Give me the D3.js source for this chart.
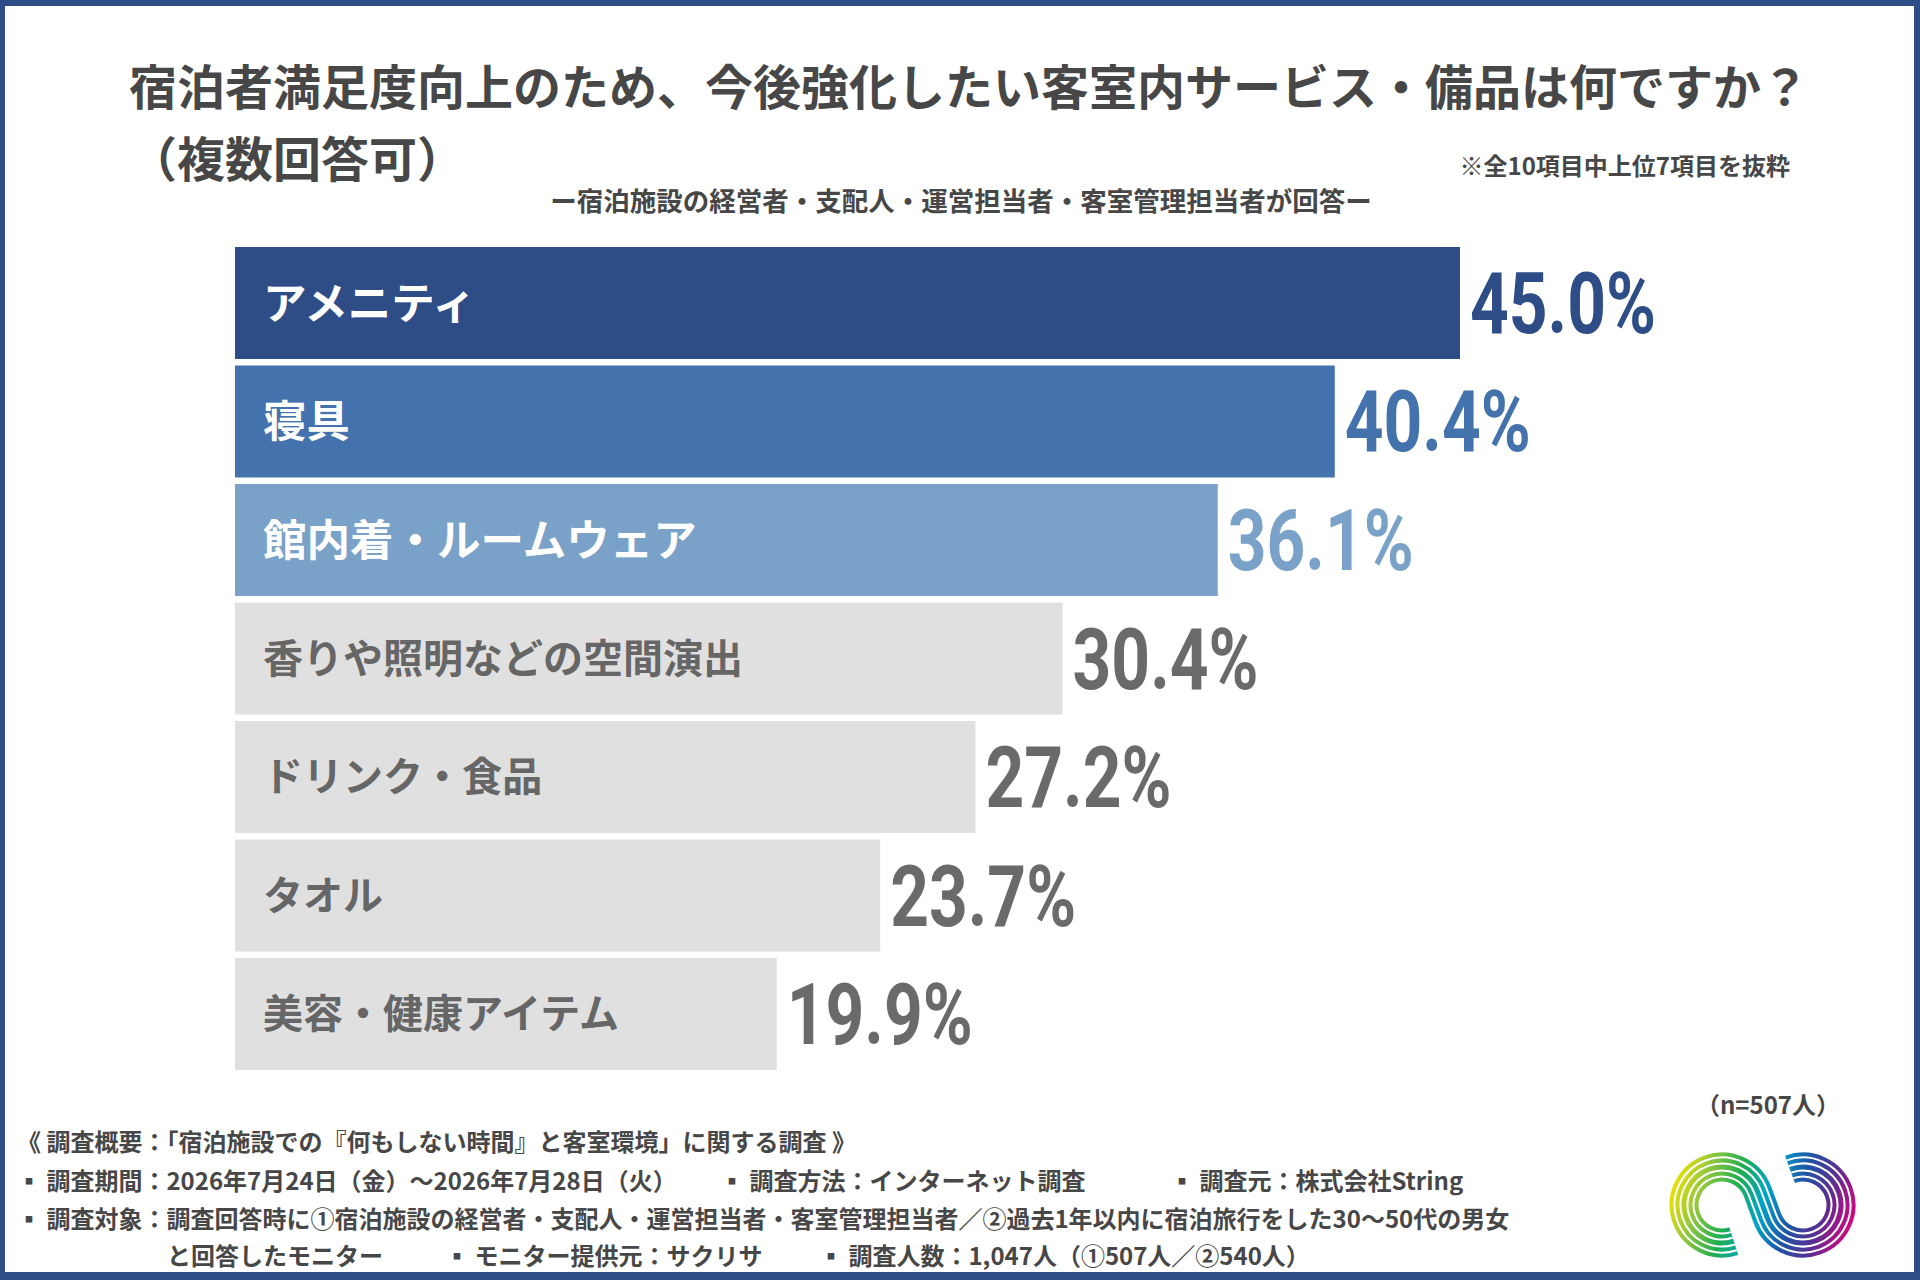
<!DOCTYPE html>
<html>
<head>
<meta charset="utf-8">
<script src="https://cdn.jsdelivr.net/npm/d3@7"></script>
<style>
  html, body { margin: 0; padding: 0; background: #fff; }
  svg { display: block; }
</style>
</head>
<body>
<div id="chart"></div>
<script>
// 上位7項目（全10項目中）
const categories = ['アメニティ', '寝具', '館内着・ルームウェア', '香りや照明などの空間演出', 'ドリンク・食品', 'タオル', '美容・健康アイテム']
const values = [45.0, 40.4, 36.1, 30.4, 27.2, 23.7, 19.9]

const titleLines = ['宿泊者満足度向上のため、今後強化したい客室内サービス・備品は何ですか？', '（複数回答可）']
const noteText = '※全10項目中上位7項目を抜粋'
const subtitle = 'ー宿泊施設の経営者・支配人・運営担当者・客室管理担当者が回答ー'
const sampleText = '（n=507人）'
const footerLines = [
  ['《 調査概要：「宿泊施設での『何もしない時間』と客室環境」に関する調査 》'],
  ['▪ 調査期間：2026年7月24日（金）～2026年7月28日（火）', '▪ 調査方法：インターネット調査', '▪ 調査元：株式会社String'],
  ['▪ 調査対象：調査回答時に①宿泊施設の経営者・支配人・運営担当者・客室管理担当者／②過去1年以内に宿泊旅行をした30～50代の男女'],
  ['と回答したモニター', '▪ モニター提供元：サクリサ', '▪ 調査人数：1,047人（①507人／②540人）']
]

const width = 1920
const height = 1280
const navy = '#2e4d87'
const textGrey = '#474747'
const barColors = ['#2e4d87', '#4472ad', '#7aa2c8', '#e0e0e0', '#e0e0e0', '#e0e0e0', '#e0e0e0']
const valueColors = ['#2e4d87', '#4472ad', '#7aa2c8', '#6a6a6a', '#6a6a6a', '#6a6a6a', '#6a6a6a']
const nameColors = ['#fff', '#fff', '#fff', '#666', '#666', '#666', '#666']
const nameSizes = [43.5, 43.5, 43.5, 40, 40, 40, 40]
const jp = '"Noto Sans CJK JP", "Noto Sans CJK SC", sans-serif'
const numFont = 'Roboto, "DejaVu Sans Condensed", sans-serif'

const svg = d3.select('#chart')
  .append('svg')
  .attr('width', width)
  .attr('height', height)
  .attr('viewBox', [0, 0, width, height])

// 枠
svg.append('rect').attr('width', width).attr('height', height).attr('fill', navy)
svg.append('rect')
  .attr('x', 5).attr('y', 6)
  .attr('width', width - 11).attr('height', height - 14)
  .attr('fill', '#fff')

// タイトル
svg.append('g')
  .selectAll('text')
  .data(titleLines)
  .join('text')
  .attr('x', 129)
  .attr('y', (d, i) => 105 + i * 72)
  .attr('font-family', jp)
  .attr('font-weight', 700)
  .attr('font-size', 48)
  .attr('fill', textGrey)
  .text(d => d)

svg.append('text')
  .attr('x', 1790).attr('y', 175)
  .attr('text-anchor', 'end')
  .attr('font-family', jp)
  .attr('font-weight', 700)
  .attr('font-size', 24)
  .attr('fill', textGrey)
  .text(noteText)

svg.append('text')
  .attr('x', 961).attr('y', 211)
  .attr('text-anchor', 'middle')
  .attr('font-family', jp)
  .attr('font-weight', 700)
  .attr('font-size', 26.5)
  .attr('fill', textGrey)
  .text(subtitle)

// スケール
const x = d3.scaleLinear().domain([0, 45]).range([235, 1460])
const y = d3.scaleBand().domain(categories).range([247, 1070]).paddingInner(0.055)

const rows = categories.map((c, i) => ({ name: c, value: values[i], i }))

const bars = svg.append('g')
  .selectAll('g')
  .data(rows)
  .join('g')

bars.append('rect')
  .attr('x', x(0))
  .attr('y', d => y(d.name))
  .attr('width', d => x(d.value) - x(0))
  .attr('height', y.bandwidth())
  .attr('fill', d => barColors[d.i])

// 項目名（バー内）
bars.append('text')
  .attr('x', x(0) + 28)
  .attr('y', d => y(d.name) + y.bandwidth() / 2 + nameSizes[d.i] * 0.36)
  .attr('font-family', jp)
  .attr('font-weight', 700)
  .attr('font-size', d => nameSizes[d.i])
  .attr('fill', d => nameColors[d.i])
  .text(d => d.name)

// 数値（横方向に詰めた表示）
const valueLabels = bars.append('text')
  .attr('font-family', numFont)
  .attr('font-weight', 700)
  .attr('font-size', 85)
  .attr('fill', d => valueColors[d.i])
  .text(d => d.value.toFixed(1) + '%')

const firstW = valueLabels.node().getComputedTextLength()
const squeeze = firstW > 0 ? 186 / firstW : 0.8
valueLabels.attr('transform', d => `translate(${x(d.value) + 10},${y(d.name) + y.bandwidth() / 2 + 30}) scale(${squeeze},1)`)

svg.append('text')
  .attr('x', 1840).attr('y', 1114)
  .attr('text-anchor', 'end')
  .attr('font-family', jp)
  .attr('font-weight', 700)
  .attr('font-size', 24)
  .attr('fill', textGrey)
  .text(sampleText)

// 調査概要
const footerX = [[17], [17, 720, 1170], [17], [167, 445, 819]]
const footerY = [1151, 1190, 1228, 1265]
footerLines.forEach((line, li) => {
  line.forEach((t, ti) => {
    svg.append('text')
      .attr('x', footerX[li][ti])
      .attr('y', footerY[li])
      .attr('font-family', jp)
      .attr('font-weight', 700)
      .attr('font-size', 24)
      .attr('fill', textGrey)
      .text(t)
  })
})

// ロゴ
const defs = svg.append('defs')
const grad = defs.append('linearGradient')
  .attr('id', 'logoGrad')
  .attr('gradientUnits', 'userSpaceOnUse')
  .attr('x1', 1672).attr('y1', 1175).attr('x2', 1853).attr('y2', 1235)
const stops = [[0, '#f5e400'], [0.18, '#8cc63f'], [0.34, '#1fae4f'], [0.5, '#00a3c9'], [0.66, '#1f55a5'], [0.82, '#5c2d91'], [1, '#e4007f']]
grad.selectAll('stop')
  .data(stops)
  .join('stop')
  .attr('offset', d => d[0])
  .attr('stop-color', d => d[1])

const cy = 1205, c1 = 1722, c2 = 1803, R = 38
const half = (c2 - c1) / 2
const alpha = Math.acos(R / half)
const pt = (cx, a) => [cx + R * Math.cos(a), cy + R * Math.sin(a)]
const rad = d => d * Math.PI / 180
const s = pt(c1, rad(72))
const t1 = pt(c1, -alpha)
const t2 = pt(c2, Math.PI - alpha)
const e = pt(c2, rad(250))
const logoPath = `M${s}A${R},${R} 0 1 1 ${t1}L${t2}A${R},${R} 0 1 0 ${e}`

const logo = svg.append('g')
;[[29, 'url(#logoGrad)'], [21, '#fff'], [17, 'url(#logoGrad)'], [9, '#fff'], [5, 'url(#logoGrad)']].forEach(([w, c]) => {
  logo.append('path')
    .attr('d', logoPath)
    .attr('fill', 'none')
    .attr('stroke', c)
    .attr('stroke-width', w)
})
</script>
</body>
</html>
